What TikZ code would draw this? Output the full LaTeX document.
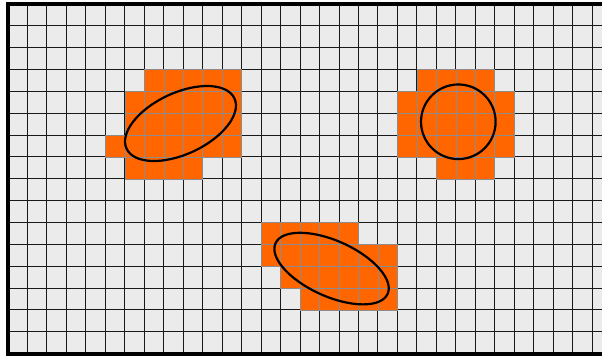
\documentclass[tikz,border=0pt]{standalone}
\usepackage{tikz}
\definecolor{bg}{HTML}{EBEBEB}
\definecolor{blob}{HTML}{FF6600}

\begin{document}
\begin{tikzpicture}[
    x=19.47pt, y=-21.85pt,
    gridline/.style={black!90, line width=0.9pt},
    cell/.style={fill=blob, draw=black!45, line width=0.5pt},
    frame/.style={black, line width=4pt},
    outline/.style={black, line width=2.2pt},
]
\useasboundingbox (-0.411,-0.183) rectangle (30.51,16.11);
\clip (-0.411,-0.183) rectangle (30.51,16.11);

% === BACKGROUND ===
\fill[bg] (0,0) rectangle (30.51,16);

% === GRID ===
\foreach \c in {0,...,30}{
    \draw[gridline] (\c,0) -- (\c,16);
}
\foreach \r in {0,...,16}{
    \draw[gridline] (0,\r) -- (30.51,\r);
}

% === ORANGE CELLS (row/first col/last col) ===
\foreach \r/\a/\b in {
    3/7/11, 4/6/11, 5/6/11, 6/5/11, 7/6/9,
    3/21/24, 4/20/25, 5/20/25, 6/20/25, 7/22/24,
    10/13/17, 11/13/19, 12/14/19, 13/15/19%
}{
    \foreach \c in {\a,...,\b}{
        \draw[cell] (\c,\r) rectangle ++(1,1);
    }
}

% === ELLIPSES ===
\coordinate (e1) at (8.86,5.47);
\coordinate (e2) at (23.13,5.39);
\coordinate (e3) at (16.62,12.11);
\draw[outline, rotate around={25:(e1)}] (e1) ellipse [x radius=59.5pt, y radius=30.7pt];
\draw[outline] (e2) circle (37.3pt);
\draw[outline, rotate around={-24.3:(e3)}] (e3) ellipse [x radius=61.5pt, y radius=27.8pt];

% === FRAME ===
\draw[frame] (30.51,0) -- (0,0) -- (0,16) -- (30.51,16);

\end{tikzpicture}
\end{document}
